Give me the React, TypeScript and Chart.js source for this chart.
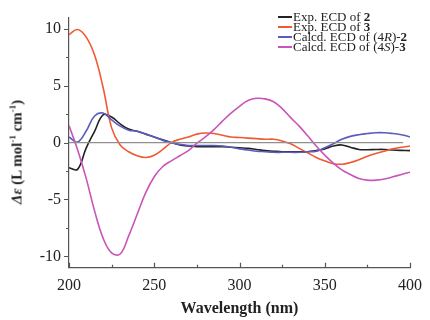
import React, { useEffect, useRef } from "react";
import { Chart, registerables } from "chart.js";

Chart.register(...registerables);

const wavelengths = [
  200, 205, 210, 215, 220, 225, 230, 235, 240, 245, 250, 255, 260, 265, 270, 275, 280, 285, 290, 295,
  300, 305, 310, 315, 320, 325, 330, 335, 340, 345, 350, 355, 360, 365, 370, 375, 380, 385, 390, 395, 400,
];

const expECD2 = [
  -2.2, -2.35, -0.5, 1.0, 2.45, 2.25, 1.65, 1.2, 1.0, 0.75, 0.5, 0.25, 0.0, -0.2, -0.3, -0.35, -0.35, -0.35, -0.35, -0.4,
  -0.45, -0.5, -0.6, -0.7, -0.75, -0.8, -0.8, -0.8, -0.8, -0.7, -0.55, -0.3, -0.2, -0.4, -0.6, -0.62, -0.6, -0.6, -0.65, -0.68, -0.7,
];

const expECD3 = [
  9.5, 9.95, 9.3, 7.7, 4.85, 1.3, -0.2, -0.8, -1.15, -1.3, -1.1, -0.6, 0.0, 0.3, 0.5, 0.75, 0.85, 0.8, 0.65, 0.5,
  0.45, 0.4, 0.35, 0.3, 0.3, 0.15, -0.1, -0.5, -0.9, -1.3, -1.6, -1.85, -1.9, -1.75, -1.5, -1.2, -0.95, -0.75, -0.55, -0.4, -0.3,
];

const calcd4R2 = [
  0.5, 0.05, 1.0, 2.35, 2.6, 2.0, 1.45, 1.1, 1.0, 0.75, 0.5, 0.2, 0.0, -0.15, -0.25, -0.25, -0.25, -0.25, -0.3, -0.4,
  -0.55, -0.65, -0.75, -0.8, -0.85, -0.85, -0.85, -0.85, -0.8, -0.75, -0.45, -0.1, 0.3, 0.55, 0.7, 0.8, 0.87, 0.87, 0.8, 0.7, 0.5,
];

const calcd4S3 = [
  1.5, -0.6, -3.1, -6.0, -8.4, -9.7, -9.8, -8.2, -6.3, -4.4, -3.0, -2.1, -1.6, -1.15, -0.7, -0.05, 0.5, 1.15, 1.9, 2.6,
  3.2, 3.7, 3.9, 3.85, 3.6, 3.0, 2.2, 1.45, 0.6, -0.3, -1.1, -1.8, -2.4, -2.8, -3.15, -3.3, -3.3, -3.2, -3.0, -2.8, -2.6,
];

const zeroLineX = [200, 396];
const zeroLineY = [0, 0];

const xTickValues = [200, 225, 250, 275, 300, 325, 350, 375, 400];
const yTickValues = [-10, -7.5, -5, -2.5, 0, 2.5, 5, 7.5, 10];

const SERIF = "'Liberation Serif', 'Times New Roman', serif";

const COLORS = {
  black: "#222222",
  red: "#ef5a30",
  blue: "#5c5cbd",
  magenta: "#c855b8",
  zero: "#8f8f8f",
  axis: "#555555",
};

const toPoints = (xs: number[], ys: number[]) => xs.map((x, i) => ({ x, y: ys[i] }));

const tickPlugin = {
  id: "customTicks",
  afterDraw(chart: any) {
    const ctx = chart.ctx;
    const xs = chart.scales.x;
    const ys = chart.scales.y;
    ctx.save();
    ctx.strokeStyle = COLORS.axis;
    ctx.lineWidth = 1.2;
    ctx.beginPath();
    xTickValues.forEach((v) => {
      const px = Math.round(xs.getPixelForValue(v)) + 0.5;
      const len = v % 50 === 0 ? 5 : 3;
      ctx.moveTo(px, xs.top);
      ctx.lineTo(px, xs.top - len);
    });
    yTickValues.forEach((v) => {
      const py = Math.round(ys.getPixelForValue(v)) + 0.5;
      const len = v % 5 === 0 ? 5 : 3;
      ctx.moveTo(ys.right, py);
      ctx.lineTo(ys.right - len, py);
    });
    ctx.stroke();
    ctx.restore();
  },
};

const legendItems = [
  { color: COLORS.black, content: <>Exp. ECD of <b>2</b></> },
  { color: COLORS.red, content: <>Exp. ECD of <b>3</b></> },
  { color: COLORS.blue, content: <>Calcd. ECD of (4<i>R</i>)-<b>2</b></> },
  { color: COLORS.magenta, content: <>Calcd. ECD of (4<i>S</i>)-<b>3</b></> },
];

export default function App() {
  const canvasRef = useRef<HTMLCanvasElement | null>(null);

  useEffect(() => {
    if (!canvasRef.current) return;
    const lineDs = (label: string, ys: number[], color: string, width = 1.6) => ({
      label,
      data: toPoints(wavelengths, ys),
      borderColor: color,
      backgroundColor: color,
      borderWidth: width,
      pointRadius: 0,
      tension: 0.4,
      fill: false,
    });
    const chart = new Chart(canvasRef.current, {
      type: "line",
      data: {
        datasets: [
          {
            label: "zero",
            data: toPoints(zeroLineX, zeroLineY),
            borderColor: COLORS.zero,
            borderWidth: 1.4,
            pointRadius: 0,
            fill: false,
          },
          lineDs("Calcd. ECD of (4S)-3", calcd4S3, COLORS.magenta),
          lineDs("Calcd. ECD of (4R)-2", calcd4R2, COLORS.blue),
          lineDs("Exp. ECD of 3", expECD3, COLORS.red),
          lineDs("Exp. ECD of 2", expECD2, COLORS.black),
        ],
      },
      options: {
        animation: false,
        responsive: false,
        devicePixelRatio: 1,
        layout: { padding: { top: 9.3, right: 14, left: 0, bottom: 0 } },
        plugins: {
          legend: { display: false },
          tooltip: { enabled: false },
        },
        scales: {
          x: {
            type: "linear",
            min: 200,
            max: 400,
            grid: { display: false, drawTicks: false },
            border: { display: true, color: COLORS.axis, width: 1.2 },
            ticks: {
              stepSize: 50,
              includeBounds: false,
              padding: 8,
              color: "#222",
              font: { family: SERIF, size: 16 },
              maxRotation: 0,
              autoSkip: false,
            },
            title: {
              display: true,
              text: "Wavelength (nm)",
              color: "#222",
              font: { family: SERIF, size: 16, weight: "bold" },
              padding: { top: 0, bottom: 2 },
            },
            afterFit(scale: any) {
              scale.height = 52.3;
            },
          },
          y: {
            type: "linear",
            min: -11,
            max: 11,
            grid: { display: false, drawTicks: false },
            border: { display: true, color: COLORS.axis, width: 1.2 },
            ticks: {
              stepSize: 5,
              includeBounds: false,
              padding: 8,
              color: "#222",
              font: { family: SERIF, size: 16 },
              autoSkip: false,
            },
            title: { display: false },
            afterFit(scale: any) {
              scale.width = 69;
            },
          },
        },
      },
      plugins: [tickPlugin],
    });
    return () => chart.destroy();
  }, []);

  return (
    <div
      style={{
        position: "fixed",
        left: 0,
        top: 0,
        width: 430,
        height: 320,
        background: "#fff",
      }}
    >
      <canvas ref={canvasRef} width={430} height={320} style={{ width: 430, height: 320 }} />
      <div
        style={{
          position: "absolute",
          left: 15,
          top: 152,
          transform: "translate(-50%, -50%) rotate(-90deg)",
          fontFamily: SERIF,
          fontSize: 15,
          fontWeight: "bold",
          color: "#222",
          whiteSpace: "nowrap",
          lineHeight: "17px",
        }}
      >
        <i>Δε</i> (L mol<sup style={{ fontSize: 9 }}>-1</sup> cm<sup style={{ fontSize: 9 }}>-1</sup>)
      </div>
      {legendItems.map((item, i) => (
        <div
          key={i}
          style={{
            position: "absolute",
            left: 278,
            top: 10 + i * 10,
            height: 13,
            display: "flex",
            alignItems: "center",
            fontFamily: SERIF,
            fontSize: 13,
            lineHeight: "13px",
            color: "#222",
            whiteSpace: "nowrap",
          }}
        >
          <span
            style={{
              display: "inline-block",
              width: 14,
              height: 2,
              background: item.color,
              marginRight: 1,
            }}
          />
          <span>{item.content}</span>
        </div>
      ))}
    </div>
  );
}
